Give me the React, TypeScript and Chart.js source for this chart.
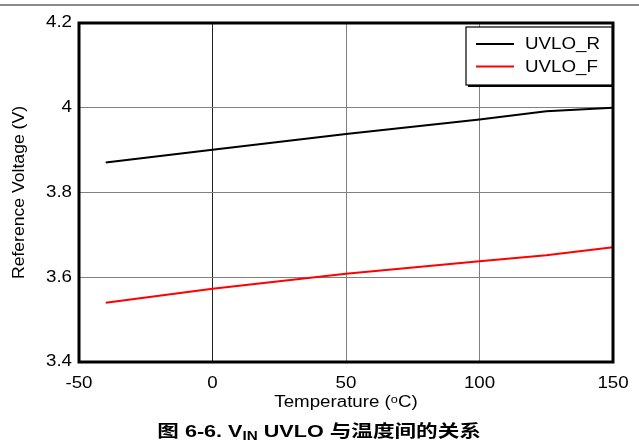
import React, { useEffect, useRef } from "react";
import { Chart, registerables } from "chart.js";

Chart.register(...registerables);

const temps = [-40, 0, 50, 100, 125, 150];
const uvloR = [3.871, 3.901, 3.938, 3.972, 3.992, 4.0];
const uvloF = [3.54, 3.573, 3.608, 3.638, 3.652, 3.671];
const seriesLabels = ["UVLO_R", "UVLO_F"];
const seriesColors = ["#000000", "#ff0000"];
const xTitle = "Temperature (ᵒC)";
const yTitle = "Reference Voltage (V)";

const FONT = "'Liberation Sans', Arial, sans-serif";

const frameAndLegend = {
  id: "frameAndLegend",
  afterDraw(chart: any) {
    const { ctx, chartArea } = chart;
    const { left, top, right, bottom } = chartArea;
    ctx.save();
    ctx.strokeStyle = "#000";
    ctx.lineWidth = 3;
    ctx.strokeRect(left, top, right - left, bottom - top);
    const bw = 146;
    const bh = 58;
    const bx = right - 1 - bw;
    const by = top + 4;
    ctx.fillStyle = "#000";
    ctx.fillRect(bx + 2, by + 2, bw, bh);
    ctx.fillStyle = "#fff";
    ctx.fillRect(bx, by, bw, bh);
    ctx.lineWidth = 1.2;
    ctx.strokeStyle = "#000";
    ctx.strokeRect(bx, by, bw, bh);
    ctx.font = "16px " + FONT;
    ctx.textBaseline = "middle";
    ctx.textAlign = "left";
    chart.data.datasets.forEach((ds: any, i: number) => {
      const y = by + 17 + i * 22.5;
      ctx.strokeStyle = ds.borderColor;
      ctx.lineWidth = 2;
      ctx.beginPath();
      ctx.moveTo(bx + 10, y);
      ctx.lineTo(bx + 48, y);
      ctx.stroke();
      ctx.fillStyle = "#000";
      ctx.fillText(ds.label, bx + 59, y + 1);
    });
    ctx.restore();
  },
};

export default function App() {
  const ref = useRef<HTMLCanvasElement | null>(null);

  useEffect(() => {
    const canvas = ref.current;
    if (!canvas) return;
    const c2d: any = canvas.getContext("2d");
    const origFill = c2d.fillText;
    c2d.fillText = function (text: string, x: number, y: number, mw?: number) {
      const t = this.getTransform();
      const rotated = Math.abs(t.b) > 0.01;
      const sx = rotated ? 1.1 : 1.17;
      this.save();
      this.translate(x, y);
      this.scale(sx, 1);
      if (mw === undefined) origFill.call(this, text, 0, 0);
      else origFill.call(this, text, 0, 0, mw);
      this.restore();
    };
    Chart.defaults.font.family = FONT;
    const chart = new Chart(canvas, {
      type: "line",
      data: {
        datasets: [
          {
            label: seriesLabels[0],
            data: temps.map((t, i) => ({ x: t, y: uvloR[i] })),
            borderColor: seriesColors[0],
            borderWidth: 2,
            pointRadius: 0,
            tension: 0,
          },
          {
            label: seriesLabels[1],
            data: temps.map((t, i) => ({ x: t, y: uvloF[i] })),
            borderColor: seriesColors[1],
            borderWidth: 2,
            pointRadius: 0,
            tension: 0,
          },
        ],
      },
      options: {
        responsive: false,
        animation: false,
        layout: { padding: { left: 0, right: 26, top: 23, bottom: 34 } },
        plugins: {
          legend: { display: false },
          tooltip: { enabled: false },
        },
        scales: {
          x: {
            type: "linear",
            min: -50,
            max: 150,
            ticks: {
              stepSize: 50,
              color: "#000",
              font: { size: 16, family: FONT },
              padding: 12,
              maxRotation: 0,
            },
            grid: {
              color: (c: any) => (c.tick && c.tick.value === 0 ? "#222" : "#808080"),
              lineWidth: 1,
              drawTicks: false,
            },
            border: { display: false },
            title: {
              display: true,
              text: xTitle,
              color: "#000",
              font: { size: 16, family: FONT },
              padding: { top: 0, bottom: 1 },
            },
            afterFit: (s: any) => {
              s.height = 51;
            },
          },
          y: {
            type: "linear",
            min: 3.4,
            max: 4.2,
            ticks: {
              stepSize: 0.2,
              color: "#000",
              font: { size: 16, family: FONT },
              padding: 7,
              callback: (v: any) => String(+Number(v).toFixed(1)),
            },
            grid: {
              color: "#808080",
              lineWidth: 1,
              drawTicks: false,
            },
            border: { display: false },
            title: {
              display: true,
              text: yTitle,
              color: "#000",
              font: { size: 16, family: FONT },
              padding: { top: 10, bottom: 0 },
            },
            afterFit: (s: any) => {
              s.width = 79;
            },
          },
        },
      },
      plugins: [frameAndLegend],
    });
    return () => {
      chart.destroy();
      c2d.fillText = origFill;
    };
  }, []);

  return (
    <div style={{ position: "absolute", left: 0, top: 0, width: 639, height: 447, background: "#fff" }}>
      <div style={{ position: "absolute", left: 0, top: 4, width: 639, height: 2, background: "#8a8a8a" }} />
      <canvas ref={ref} width={639} height={447} style={{ position: "absolute", left: 0, top: 0 }} />
      <div
        style={{
          position: "absolute",
          left: 0,
          top: 422,
          width: 639,
          textAlign: "center",
          fontFamily: "'Liberation Sans', Arial, 'Noto Sans CJK SC', sans-serif",
          fontWeight: "bold",
          fontSize: 17,
          lineHeight: "20px",
          color: "#000",
          transform: "scaleX(1.27)",
          transformOrigin: "321px 50%",
        }}
      >
        图 6-6. V<sub style={{ fontSize: 12, lineHeight: 0, verticalAlign: "-3px" }}>IN</sub> UVLO 与温度间的关系
      </div>
    </div>
  );
}
